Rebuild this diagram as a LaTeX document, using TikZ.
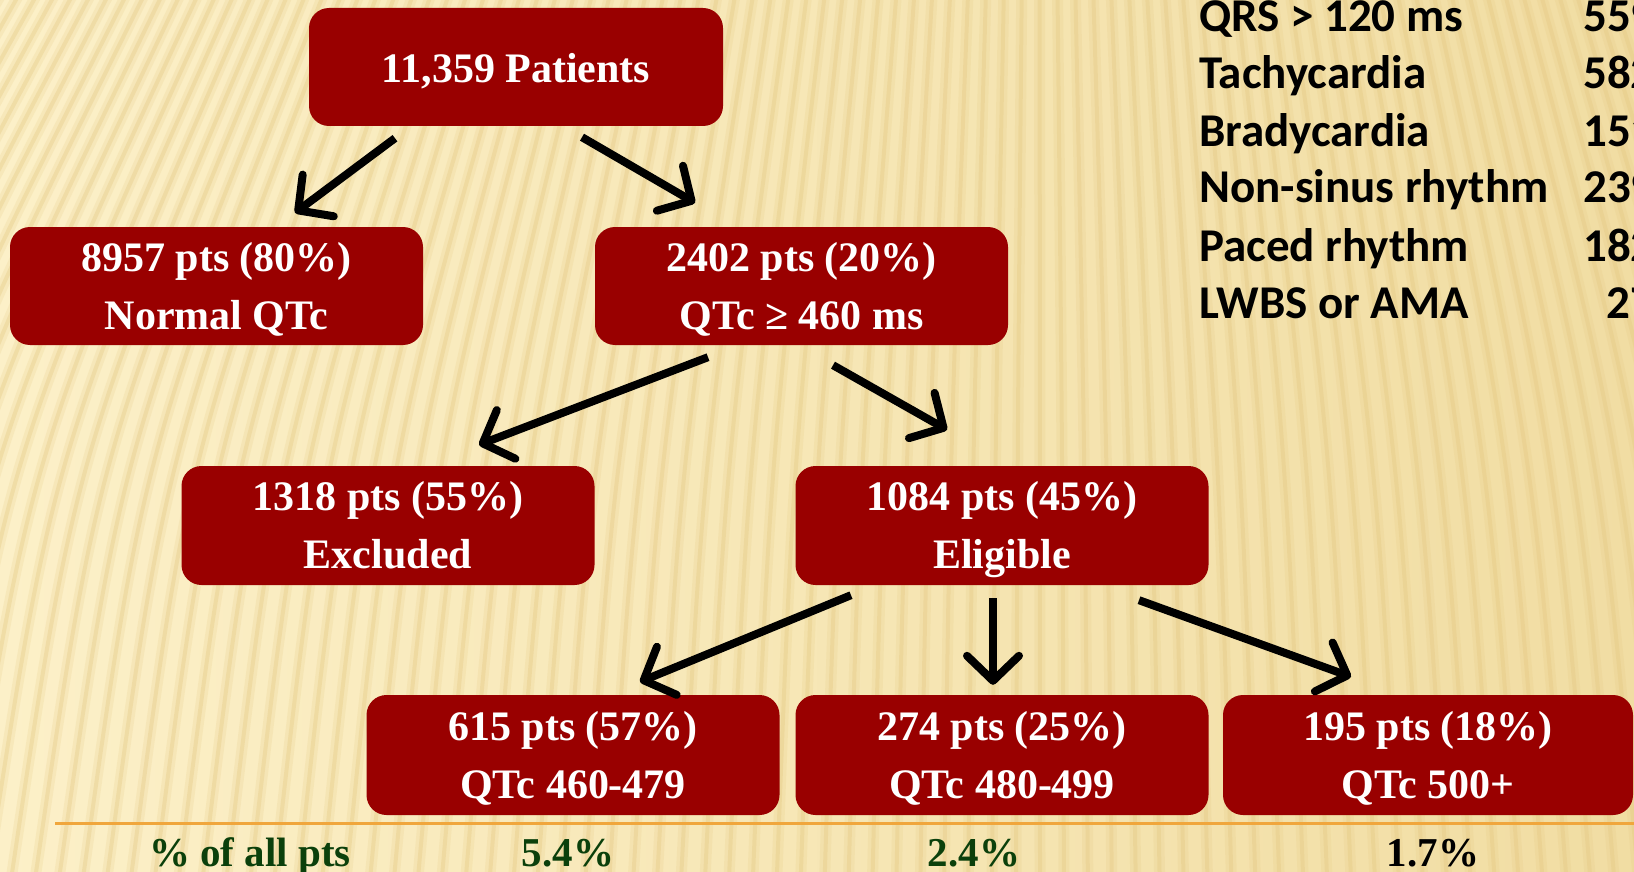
\documentclass[tikz,border=0pt]{standalone}
\usepackage{fontspec}
\setmainfont{Liberation Serif}
\newfontfamily\calfont{Carlito}
\usetikzlibrary{arrows.meta,calc}
\definecolor{bgcream}{HTML}{FCEFC6}
\definecolor{bgleft}{HTML}{FCF0C8}
\definecolor{bgright}{HTML}{F1DDA3}
\definecolor{stripecol}{HTML}{E3C67E}
\definecolor{boxred}{HTML}{990000}
\definecolor{darkgreen}{HTML}{0B400B}
\definecolor{lineorange}{HTML}{F0A63C}
\newcommand{\hiStrut}{\rule{0pt}{38pt}}
\newcommand{\loStrut}{\rule[-10pt]{0pt}{10pt}}
\tikzset{
  flowbox/.style={rectangle, rounded corners=20pt, fill=boxred, text=white,
    minimum width=413pt, minimum height=118pt, inner sep=0pt, align=center,
    font=\fontsize{42}{58}\selectfont\bfseries},
  arr/.style={line width=8pt, -{Straight Barb[length=25pt,width=52pt,line width=8pt,round]}},
  stripewide/.style={stripecol, line width=11pt, opacity=0.18},
  stripenarrow/.style={stripecol, line width=4pt, opacity=0.32},
  listtxt/.style={anchor=base west, inner sep=0pt, font=\fontsize{47}{56}\selectfont\calfont\bfseries},
  numtxt/.style={anchor=base west, inner sep=0pt, font=\fontsize{47}{56}\selectfont\calfont\bfseries},
  pcttxt/.style={anchor=base, inner sep=0pt, text=darkgreen, font=\fontsize{41}{50}\selectfont\bfseries}
}
\begin{document}
\begin{tikzpicture}[x=1pt,y=-1pt]
\useasboundingbox (0,0) rectangle (1634,872);
\begin{scope}
\clip (0,0) rectangle (1634,872);
\shade[left color=bgleft, middle color=bgcream, right color=bgright] (0,0) rectangle (1634,872);
\foreach \b in {-400,-376,...,2100} {
  \pgfmathsetmacro{\s}{270-0.26*\b}
  \draw[stripewide] (\b,900) .. controls ({\b+0.25*\s},450) .. ({\b+\s},-20);
  \draw[stripenarrow] (\b,900) .. controls ({\b+0.25*\s},450) .. ({\b+\s},-20);
}
\draw[lineorange, line width=3pt] (55,823) -- (1634,823);

% list at top right
\node[listtxt] (l1) at (1199,32) {QRS > 120 ms};
\node[listtxt] (l2) at (1199,89) {Tachycardia};
\node[listtxt] (l3) at (1199,147) {Bradycardia};
\node[listtxt] (l4) at (1199,203) {Non-sinus rhythm};
\node[listtxt] (l5) at (1199,261) {Paced rhythm};
\node[listtxt] (l6) at (1199,318) {LWBS or AMA};
\node[numtxt] (v1) at (1583,32) {559};
\node[numtxt] (v2) at (1583,89) {582};
\node[numtxt] (v3) at (1583,147) {151};
\node[numtxt] (v4) at (1583,203) {239};
\node[numtxt] (v5) at (1583,261) {182};
\node[numtxt] (v6) at (1606,318) {27};

% boxes
\node[flowbox, minimum width=414pt] (top) at (516,67) {\rule{0pt}{40pt}11,359 Patients\rule[-8pt]{0pt}{8pt}};
\node[flowbox] (n8957) at (216.5,286) {\hiStrut 8957 pts (80\%)\\Normal QTc\loStrut};
\node[flowbox] (n2402) at (801.5,286) {\hiStrut 2402 pts (20\%)\\QTc ≥ 460 ms\loStrut};
\node[flowbox, minimum height=119pt] (n1318) at (388,525.5) {\hiStrut 1318 pts (55\%)\\Excluded\loStrut};
\node[flowbox, minimum height=119pt] (n1084) at (1002,525.5) {\hiStrut 1084 pts (45\%)\\Eligible\loStrut};
\node[flowbox, minimum height=120pt] (n615) at (573,755) {\hiStrut 615 pts (57\%)\\QTc 460-479\loStrut};
\node[flowbox, minimum height=120pt] (n274) at (1002,755) {\hiStrut 274 pts (25\%)\\QTc 480-499\loStrut};
\node[flowbox, minimum width=410pt, minimum height=120pt] (n195) at (1428,755) {\hiStrut 195 pts (18\%)\\QTc 500+\loStrut};

% arrow end points
\coordinate (a1s) at ($(top.south)+(-121,12)$);
\coordinate (a1e) at ($(n8957.north)+(78.5,-14)$);
\coordinate (a2s) at ($(top.south)+(66,11)$);
\coordinate (a2e) at ($(n2402.north)+(-106.5,-24)$);
\coordinate (a3s) at ($(n2402.south)+(-93.5,12)$);
\coordinate (a3e) at ($(n1318.north)+(91,-21)$);
\coordinate (a4s) at ($(n2402.south)+(31.5,20)$);
\coordinate (a4e) at ($(n1084.north)+(-55,-36)$);
\coordinate (a5s) at ($(n1084.south)+(-151,10)$);
\coordinate (a5e) at ($(n615.north)+(67,-13)$);
\coordinate (a6s) at ($(n1084.south)+(-9,13)$);
\coordinate (a6e) at ($(n274.north)+(-9,-10)$);
\coordinate (a7s) at ($(n1084.south)+(137,15)$);
\coordinate (a7e) at ($(n195.north)+(-77,-18)$);
\draw[arr] (a1s) -- (a1e);
\draw[arr] (a2s) -- (a2e);
\draw[arr] (a3s) -- (a3e);
\draw[arr] (a4s) -- (a4e);
\draw[arr] (a5s) -- (a5e);
\draw[arr] (a6s) -- (a6e);
\draw[arr] (a7s) -- (a7e);

% bottom row
\node[pcttxt] (p0) at (250,866) {\% of all pts};
\node[pcttxt] (p1) at (568,866) {5.4\%};
\node[pcttxt] (p2) at (974,866) {2.4\%};
\node[pcttxt, text=black] (p3) at (1433,866) {1.7\%};
\end{scope}
\end{tikzpicture}
\end{document}
